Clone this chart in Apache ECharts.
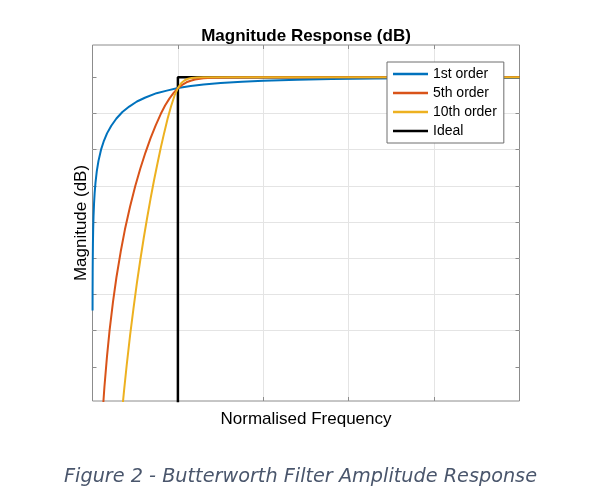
<!DOCTYPE html>
<html><head><meta charset="utf-8">
<script src="https://cdn.jsdelivr.net/npm/echarts@6/dist/echarts.min.js"></script>
<style>html,body{margin:0;padding:0;background:#fff;}#c{width:615px;height:502px;}</style>
</head><body><div id="c"></div>
<script>
const seriesNames = ['1st order', '5th order', '10th order', 'Ideal'];
const freq1 = [0.0006,0.001,0.002,0.003,0.005,0.008,0.012,0.018,0.025,0.035,0.05,0.07,0.1,0.13,0.17,0.22,0.28,0.35,0.43,0.52,0.62,0.75,0.87,1,1.15,1.3,1.5,1.75,2,2.4,2.8,3.3,3.8,4.4,5];
const mag1  = [-64.4,-60.0,-54.0,-50.5,-46.0,-41.9,-38.4,-34.9,-32.0,-29.1,-26.0,-23.1,-20.0,-17.8,-15.5,-13.4,-11.4,-9.6,-8.1,-6.7,-5.6,-4.4,-3.7,-3.0,-2.45,-2.0,-1.6,-1.23,-0.97,-0.7,-0.52,-0.38,-0.29,-0.22,-0.17];
const freq5 = [0.12,0.14,0.17,0.2,0.24,0.28,0.33,0.38,0.44,0.5,0.56,0.62,0.68,0.74,0.8,0.85,0.9,0.95,1,1.05,1.1,1.15,1.2,1.3,1.4,1.6,2,5];
const mag5  = [-92.1,-85.4,-77.0,-69.9,-62.0,-55.3,-48.2,-42.0,-35.7,-30.1,-25.2,-20.8,-16.8,-13.3,-10.1,-7.8,-5.9,-4.3,-3.0,-2.1,-1.4,-0.96,-0.65,-0.3,-0.15,-0.04,0,0];
const freq10 = [0.34,0.37,0.4,0.44,0.48,0.52,0.56,0.6,0.64,0.68,0.72,0.76,0.8,0.84,0.88,0.92,0.96,1,1.04,1.08,1.12,1.16,1.22,1.3,1.5,5];
const mag10  = [-93.7,-86.4,-79.6,-71.3,-63.8,-56.8,-50.4,-44.4,-38.8,-33.5,-28.5,-23.9,-19.4,-15.3,-11.4,-8.0,-5.1,-3.0,-1.6,-0.84,-0.43,-0.22,-0.08,-0.02,0,0];
const freqIdeal = [1, 1, 5];
const magIdeal  = [-95, 0, 0];
const yTicks = [-80,-70,-60,-50,-40,-30,-20,-10,0];

const pairs = (xs, ys) => xs.map((x, i) => [x, ys[i]]);
const font = 'Liberation Sans, Arial, Helvetica, sans-serif';
const boxColor = '#8c8c8c';
const gridColor = '#e4e4e4';
const chart = echarts.init(document.getElementById('c'), null, {renderer: 'canvas'});
const commonX = {
  type: 'value', min: 0, max: 5, interval: 1,
  axisLabel: {show: false},
  axisLine: {show: false, onZero: false},
  axisTick: {show: true, inside: true, length: 4, lineStyle: {color: boxColor}},
};
const commonY = {
  type: 'value', min: -89.4, max: 8.9,
  axisLabel: {show: false},
  axisLine: {show: false, onZero: false},
  axisTick: {show: true, inside: true, length: 4, customValues: yTicks, lineStyle: {color: boxColor}},
};
chart.setOption({
  backgroundColor: '#fff',
  animation: false,
  title: {
    text: 'Magnitude Response (dB)', left: 301, top: 23, textAlign: 'center',
    textStyle: {fontFamily: font, fontSize: 17, fontWeight: 'bold', color: '#000'}
  },
  grid: {left: 92.5, top: 45, width: 427, height: 356, show: true, borderColor: boxColor, borderWidth: 1, backgroundColor: '#fff', containLabel: false},
  xAxis: [
    Object.assign({}, commonX, {
      position: 'bottom',
      name: 'Normalised Frequency', nameLocation: 'middle', nameGap: 10,
      nameTextStyle: {fontFamily: font, fontSize: 17, color: '#000'},
      splitLine: {show: true, showMinLine: false, showMaxLine: false, lineStyle: {color: gridColor, width: 1}}
    }),
    Object.assign({}, commonX, {position: 'top', splitLine: {show: false}})
  ],
  yAxis: [
    Object.assign({}, commonY, {
      position: 'left',
      name: 'Magnitude (dB)', nameLocation: 'middle', nameGap: 3,
      nameTextStyle: {fontFamily: font, fontSize: 17, color: '#000'},
      splitLine: {show: true, showMinLine: false, showMaxLine: false, lineStyle: {color: gridColor, width: 1}}
    }),
    Object.assign({}, commonY, {position: 'right', splitLine: {show: false}})
  ],
  legend: {
    data: seriesNames,
    orient: 'vertical', left: 387, top: 62,
    padding: [5, 7, 5, 6],
    itemWidth: 35, itemHeight: 2.5, itemGap: 5,
    icon: 'rect',
    backgroundColor: '#fff', borderColor: '#6e6e6e', borderWidth: 1,
    textStyle: {fontFamily: font, fontSize: 14, color: '#000', lineHeight: 14}
  },
  series: [
    {name: seriesNames[3], type: 'line', data: pairs(freqIdeal, magIdeal), showSymbol: false, symbol: 'none', z: 1,
     lineStyle: {color: '#000000', width: 2.5}, itemStyle: {color: '#000000'}},
    {name: seriesNames[0], type: 'line', data: pairs(freq1, mag1), showSymbol: false, symbol: 'none', z: 2,
     smooth: false, lineStyle: {color: '#0072BD', width: 2}, itemStyle: {color: '#0072BD'}},
    {name: seriesNames[1], type: 'line', data: pairs(freq5, mag5), showSymbol: false, symbol: 'none', z: 2,
     smooth: false, lineStyle: {color: '#D95319', width: 2}, itemStyle: {color: '#D95319'}},
    {name: seriesNames[2], type: 'line', data: pairs(freq10, mag10), showSymbol: false, symbol: 'none', z: 2,
     smooth: false, lineStyle: {color: '#EDB120', width: 2}, itemStyle: {color: '#EDB120'}}
  ],
  graphic: [{
    type: 'text', left: 64, top: 467,
    style: {text: 'Figure 2 - Butterworth Filter Amplitude Response', font: 'italic 19.25px "DejaVu Sans", Verdana, sans-serif', fill: '#4a566c'}
  }]
});
</script></body></html>
